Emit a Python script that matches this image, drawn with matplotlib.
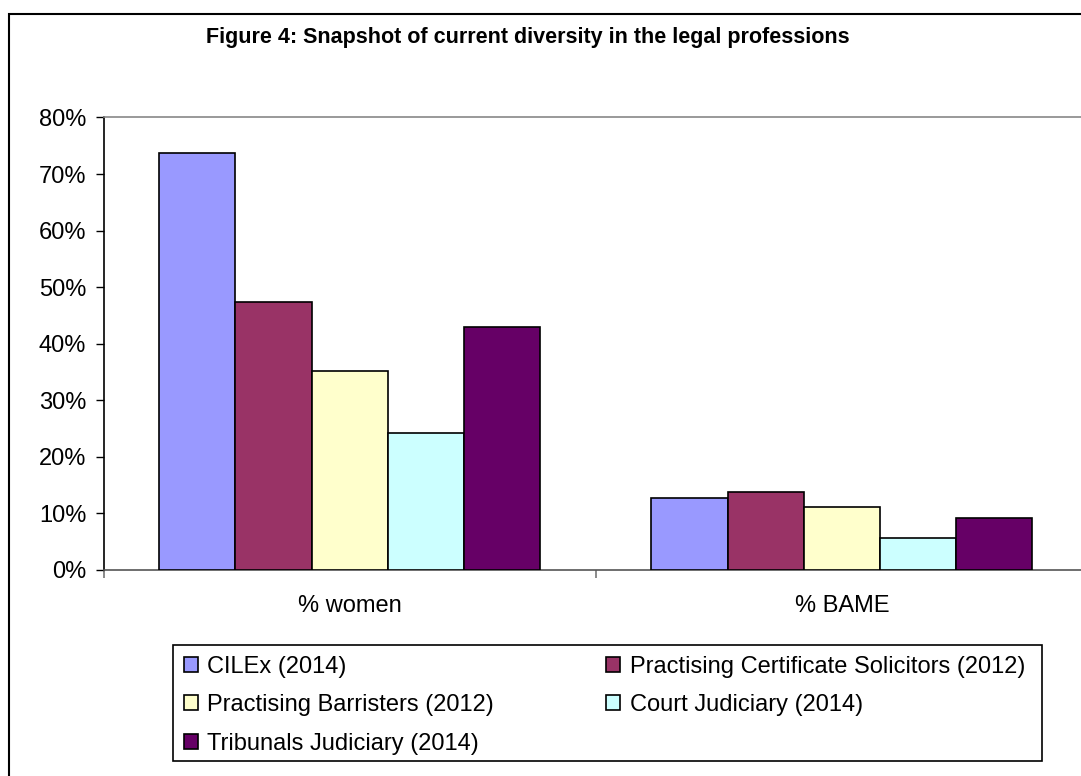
import numpy as np
import matplotlib
matplotlib.use("Agg")
import matplotlib.pyplot as plt
from matplotlib.patches import Rectangle
from matplotlib.ticker import FixedLocator, PercentFormatter

plt.rcParams['font.family'] = ['Liberation Sans', 'DejaVu Sans']

# данные
categories = ['% women', '% BAME']
series_names = ['CILEx (2014)', 'Practising Certificate Solicitors (2012)',
                'Practising Barristers (2012)', 'Court Judiciary (2014)',
                'Tribunals Judiciary (2014)']
cilex = [73.7, 12.7]
solicitors = [47.4, 13.8]
barristers = [35.1, 11.1]
court = [24.3, 5.7]
tribunals = [43.0, 9.2]
series_values = [cilex, solicitors, barristers, court, tribunals]
colors = ['#9999FF', '#993366', '#FFFFCC', '#CCFFFF', '#660066']
yticks = [0, 10, 20, 30, 40, 50, 60, 70, 80]

W, H = 1081, 776
fig = plt.figure(figsize=(W / 100, H / 100), dpi=100)

# область построения (в пикселях исходника)
left, right, top, bottom = 103.5, 1088, 117.5, 570
ax = fig.add_axes([left / W, (H - bottom) / H, (right - left) / W, (bottom - top) / H])

x = np.arange(len(categories))
bw = 0.1547
for i, (name, vals, c) in enumerate(zip(series_names, series_values, colors)):
    ax.bar(x + (i - 2) * bw, vals, width=bw, color=c, edgecolor='black',
           linewidth=1.2, label=name, zorder=3)

ax.set_xlim(-0.5, 1.5)
ax.set_ylim(0, 80)
ax.set_yticks(yticks)
ax.yaxis.set_major_formatter(PercentFormatter(decimals=0))
ax.set_xticks(x)
ax.set_xticklabels(categories)
ax.xaxis.set_minor_locator(FixedLocator([-0.5, 0.5, 1.5]))

ax.tick_params(axis='y', direction='out', length=5.5, width=1, labelsize=17, pad=7, color='black')
ax.tick_params(axis='x', which='major', length=0, labelsize=17, pad=18)
ax.tick_params(axis='x', which='minor', direction='out', length=5.5, width=1.2, color='#777777')

ax.spines['left'].set_color('black')
ax.spines['left'].set_linewidth(1.2)
ax.spines['bottom'].set_color('#555555')
ax.spines['bottom'].set_linewidth(1.2)
ax.spines['top'].set_color('#888888')
ax.spines['top'].set_linewidth(1.2)
ax.spines['right'].set_color('#888888')

# заголовок
fig.text(528 / W, 1 - 37 / H, 'Figure 4: Snapshot of current diversity in the legal professions',
         ha='center', va='center', fontsize=15.5, fontweight='bold')

# внешняя рамка диаграммы
fig.patches.append(Rectangle((8.5 / W, -0.1), 2, (H - 13.5) / H + 0.1,
                             transform=fig.transFigure, fill=False,
                             edgecolor='black', linewidth=1.5))

# легенда заполняется по строкам, как в Excel
handles, labels = ax.get_legend_handles_labels()
order = [0, 2, 4, 1, 3]
leg = fig.legend([handles[i] for i in order], [labels[i] for i in order],
                 loc='upper left', bbox_to_anchor=(173 / W, 1 - 645 / H),
                 ncol=2, fontsize=17, frameon=False,
                 handlelength=0.6, handleheight=0.6, handletextpad=0.4,
                 labelspacing=0.7, borderpad=0.45, borderaxespad=0,
                 columnspacing=4.75)
for h in leg.legend_handles:
    h.set_linewidth(1.2)

# рамка легенды
fig.patches.append(Rectangle((173 / W, 1 - 761 / H), (1042 - 173) / W, (761 - 645) / H,
                             transform=fig.transFigure, fill=False,
                             edgecolor='black', linewidth=1.2))

fig.savefig('out.png', dpi=100)
